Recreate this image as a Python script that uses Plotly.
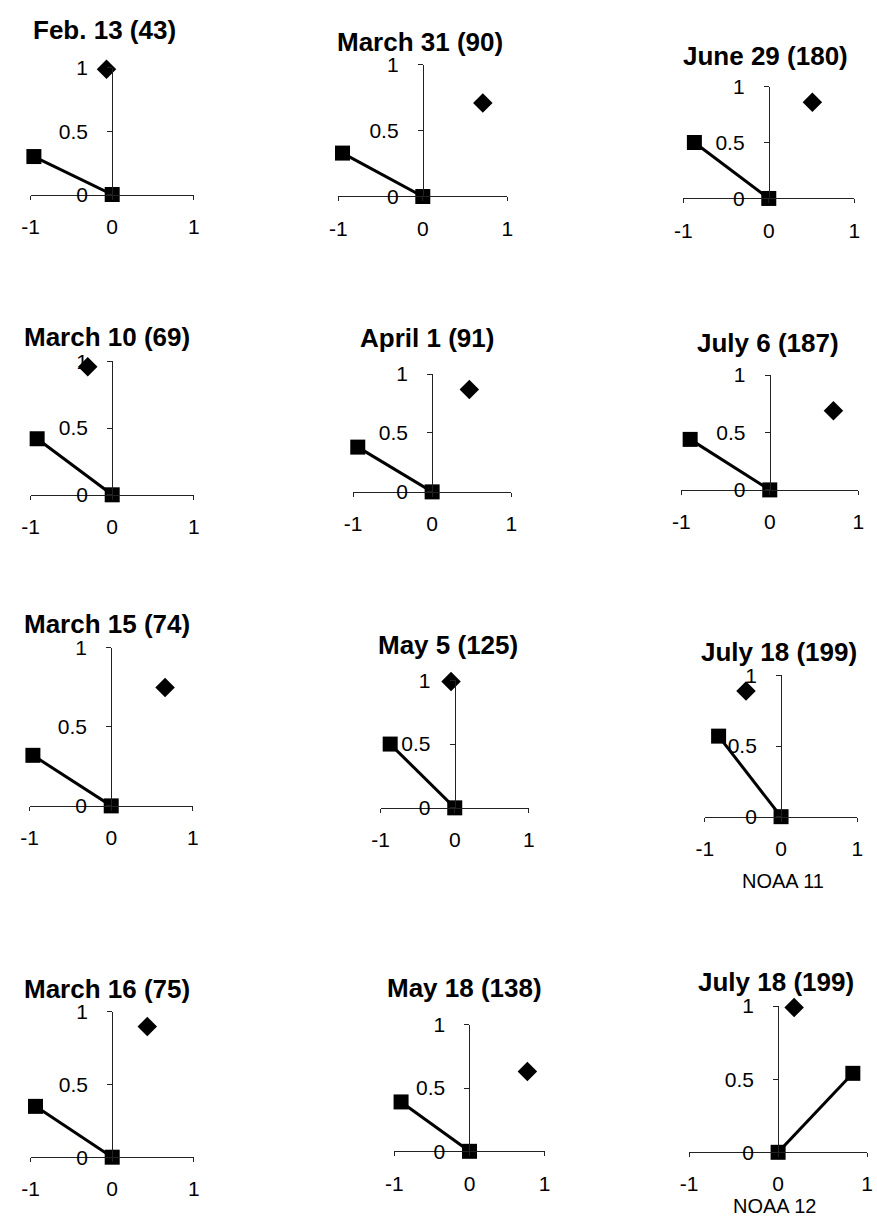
import plotly.graph_objects as go

# ---- data ----
titles = ["Feb. 13 (43)", "March 31 (90)", "June 29 (180)",
          "March 10 (69)", "April 1 (91)", "July 6 (187)",
          "March 15 (74)", "May 5 (125)", "July 18 (199)",
          "March 16 (75)", "May 18 (138)", "July 18 (199)"]
diamond_x = [-0.07, 0.71, 0.51, -0.30, 0.47, 0.72, 0.66, -0.05, -0.46, 0.43, 0.77, 0.18]
diamond_y = [0.99, 0.71, 0.86, 0.96, 0.87, 0.69, 0.75, 0.99, 0.89, 0.90, 0.63, 0.99]
square_x = [-0.96, -0.95, -0.87, -0.92, -0.94, -0.90, -0.96, -0.87, -0.82, -0.94, -0.91, 0.84]
square_y = [0.30, 0.33, 0.50, 0.42, 0.38, 0.44, 0.32, 0.50, 0.57, 0.35, 0.39, 0.54]
sat_labels = ["", "", "", "", "", "", "", "", "NOAA 11", "", "", "NOAA 12"]
x_ticks = [-1, 0, 1]
y_ticks = [0, 0.5, 1]
y_ticktext = ["0", "0.5", "1"]

# ---- layout of the panels (pixels): x=-1, x=1, y=0, y=1, title centre x, title centre y
W, H = 877, 1231
frames = [
    (22, 188, 186, 57, 97, 18),
    (335, 507, 188, 54, 418, 31),
    (686, 860, 190, 76, 770, 45),
    (22, 188, 492, 356, 100, 331),
    (350, 511, 489, 369, 425, 332),
    (684, 864, 487, 370, 772, 337),
    (21, 187, 809, 648, 100, 624),
    (378, 529, 811, 681, 447, 645),
    (708, 863, 820, 676, 783, 652),
    (22, 188, 1167, 1019, 100, 996),
    (392, 545, 1161, 1032, 463, 995),
    (692, 873, 1162, 1013, 780, 988),
]
sat_pos = {8: (787, 886), 11: (779, 1217)}


def px(v):
    return min(max(v / W, 0.0), 1.0)


def py(v):
    return min(max(1 - v / H, 0.0), 1.0)


fig = go.Figure()
annotations = []
axis_color = "#222222"
font_family = "Liberation Sans, Arial, sans-serif"
tick_font = dict(family=font_family, size=21, color="black")

for i in range(12):
    n = i + 1
    sfx = "" if n == 1 else str(n)
    xl, xr, yb, yt, tx, ty = frames[i]
    xa = "x" + sfx
    ya = "y" + sfx
    # line from origin to square marker
    fig.add_trace(go.Scatter(
        x=[0, square_x[i]], y=[0, square_y[i]], mode="lines+markers",
        line=dict(color="black", width=3),
        marker=dict(symbol="square", size=15, color="black"),
        xaxis=xa, yaxis=ya, cliponaxis=False, showlegend=False, hoverinfo="skip"))
    fig.add_trace(go.Scatter(
        x=[diamond_x[i]], y=[diamond_y[i]], mode="markers",
        marker=dict(symbol="diamond", size=15, color="black"),
        xaxis=xa, yaxis=ya, cliponaxis=False, showlegend=False, hoverinfo="skip"))

    fig.layout["xaxis" + sfx] = dict(
        domain=[px(xl), px(xr)], range=[-1, 1], anchor=ya, showgrid=False, zeroline=False,
        showline=True, linecolor=axis_color, linewidth=1,
        tickvals=x_ticks, ticktext=[str(v) for v in x_ticks],
        ticks="outside", ticklen=4, tickcolor=axis_color, ticklabelstandoff=9,
        tickfont=tick_font, fixedrange=True)
    fig.layout["yaxis" + sfx] = dict(
        domain=[py(yb), py(yt)], range=[0, 1], anchor="free", position=px((xl + xr) / 2),
        showgrid=False, zeroline=False,
        showline=True, linecolor=axis_color, linewidth=1,
        tickvals=y_ticks, ticktext=y_ticktext,
        ticks="outside", ticklen=5, tickcolor=axis_color, ticklabelstandoff=15,
        tickfont=tick_font, fixedrange=True)
    annotations.append(dict(
        text="<b>" + titles[i] + "</b>", x=px(tx), y=py(ty), xref="paper", yref="paper",
        xanchor="center", yanchor="middle", showarrow=False,
        font=dict(family=font_family, size=26, color="black")))
    if sat_labels[i]:
        sx, sy = sat_pos[i]
        annotations.append(dict(
            text=sat_labels[i], x=px(sx), y=py(sy), xref="paper", yref="paper",
            xanchor="center", yanchor="middle", showarrow=False,
            font=dict(family=font_family, size=20, color="black")))

fig.update_layout(
    width=W, height=H, margin=dict(l=0, r=0, t=0, b=0),
    paper_bgcolor="white", plot_bgcolor="rgba(0,0,0,0)",
    annotations=annotations, showlegend=False)

fig.write_html("out.html")
